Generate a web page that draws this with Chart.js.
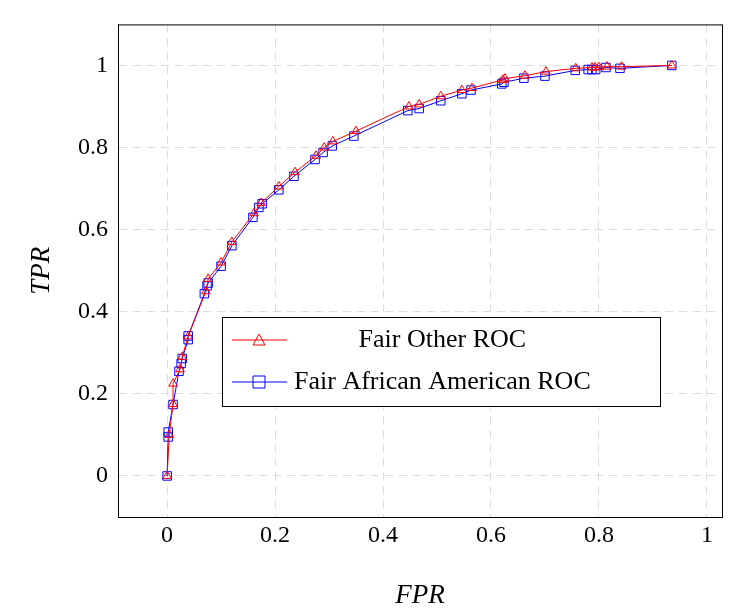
<!DOCTYPE html>
<html>
<head>
<meta charset="utf-8">
<script src="https://cdn.jsdelivr.net/npm/chart.js@4"></script>
<style>
body{margin:0;background:#fff}
#wrap{width:744px;height:616px}
</style>
</head>
<body>
<div id="wrap"><canvas id="roc"></canvas></div>
<script>
// Fair Other ROC
var otherFpr = [0,0.004,0.011,0.011,0.024,0.028,0.039,0.072,0.076,0.1,0.12,0.161,0.174,0.207,0.237,0.276,0.291,0.307,0.35,0.448,0.467,0.507,0.546,0.565,0.622,0.626,0.663,0.702,0.757,0.787,0.793,0.8,0.815,0.842,0.935];
var otherTpr = [0,0.1,0.175,0.225,0.26,0.29,0.34,0.45,0.48,0.52,0.57,0.64,0.665,0.705,0.74,0.78,0.8,0.815,0.84,0.9,0.905,0.925,0.94,0.945,0.965,0.968,0.975,0.985,0.993,0.995,0.995,0.996,0.997,0.997,1.0];
// Fair African American ROC
var aaFpr = [0,0.002,0.002,0.011,0.022,0.026,0.028,0.039,0.039,0.069,0.074,0.076,0.1,0.12,0.159,0.17,0.176,0.207,0.235,0.274,0.289,0.306,0.346,0.446,0.467,0.507,0.546,0.563,0.62,0.624,0.661,0.7,0.756,0.78,0.787,0.794,0.813,0.839,0.935];
var aaTpr = [0,0.095,0.107,0.174,0.255,0.274,0.286,0.332,0.341,0.444,0.463,0.47,0.511,0.561,0.63,0.654,0.663,0.697,0.73,0.771,0.788,0.804,0.828,0.89,0.895,0.914,0.931,0.94,0.955,0.959,0.969,0.974,0.988,0.99,0.99,0.99,0.995,0.993,1.0];
var xTicks = [0,0.2,0.4,0.6,0.8,1];
var yTicks = [0,0.2,0.4,0.6,0.8,1];

function pts(xs, ys){ return xs.map(function(x,i){ return {x:x, y:ys[i]}; }); }

var serif = '"Liberation Serif", "DejaVu Serif", serif';

// legend drawn inside the plot, like the pgfplots one
var boxLegend = {
  id: 'boxLegend',
  afterDraw: function(chart){
    var c = chart.ctx;
    var x0 = 222, y0 = 317, w = 438, h = 89;
    c.save();
    c.fillStyle = '#fff';
    c.fillRect(x0, y0, w, h);
    c.strokeStyle = '#000';
    c.lineWidth = 1;
    c.strokeRect(x0+0.5, y0+0.5, w, h);
    c.font = '26px ' + serif;
    var widest = 0;
    chart.data.datasets.forEach(function(ds){ widest = Math.max(widest, c.measureText(ds.label).width); });
    chart.data.datasets.forEach(function(ds, i){
      var cy = y0 + 23 + i*42;
      c.strokeStyle = ds.borderColor;
      c.lineWidth = 1;
      c.beginPath(); c.moveTo(x0+10, cy); c.lineTo(x0+65, cy); c.stroke();
      var mx = x0+37;
      c.beginPath();
      if (ds.pointStyle === 'triangle') {
        c.moveTo(mx, cy-6); c.lineTo(mx+6, cy+5); c.lineTo(mx-6, cy+5); c.closePath();
      } else {
        c.rect(mx-6, cy-6, 12, 12);
      }
      c.stroke();
      c.fillStyle = '#000';
      c.textAlign = 'center';
      c.textBaseline = 'middle';
      c.fillText(ds.label, x0 + 72 + widest/2, cy);
    });
    c.restore();
  }
};

new Chart(document.getElementById('roc'), {
  type: 'scatter',
  data: {
    datasets: [{
      label: 'Fair Other ROC',
      data: pts(otherFpr, otherTpr),
      showLine: true,
      borderColor: '#ff0000',
      backgroundColor: 'rgba(0,0,0,0)',
      borderWidth: 1,
      pointStyle: 'triangle',
      pointRadius: 5,
      pointBorderWidth: 1
    },{
      label: 'Fair African American ROC',
      data: pts(aaFpr, aaTpr),
      showLine: true,
      borderColor: '#0000ff',
      backgroundColor: 'rgba(0,0,0,0)',
      borderWidth: 1,
      pointStyle: 'rect',
      pointRadius: 6,
      pointBorderWidth: 1
    }]
  },
  options: {
    responsive: true,
    maintainAspectRatio: false,
    animation: false,
    layout: { padding: { left: 22, right: 22, top: 4, bottom: 0 } },
    plugins: { legend: { display: false }, tooltip: { enabled: false } },
    scales: {
      x: {
        type: 'linear', min: -0.091, max: 1.028,
        afterBuildTicks: function(s){ s.ticks = xTicks.map(function(v){ return {value:v}; }); },
        afterFit: function(s){ s.height = 99; },
        ticks: { color: '#000', font: { family: serif, size: 24 }, padding: 4,
                 callback: function(v){ return String(v); } },
        grid: { color: '#dcdcdc', tickLength: 0, drawTicks: false },
        border: { display: true, color: '#000', dash: [8, 6] },
        title: { display: true, text: 'FPR', color: '#000', font: { family: serif, size: 27, style: 'italic' }, padding: { top: 0 } }
      },
      y: {
        type: 'linear', min: -0.1, max: 1.1,
        afterBuildTicks: function(s){ s.ticks = yTicks.map(function(v){ return {value:v}; }); },
        afterFit: function(s){ s.width = 96; },
        ticks: { color: '#000', font: { family: serif, size: 24 }, padding: 10,
                 callback: function(v){ return String(v); } },
        grid: { color: '#dcdcdc', drawTicks: false },
        border: { display: true, color: '#000', dash: [8, 6] },
        title: { display: true, text: 'TPR', color: '#000', font: { family: serif, size: 27, style: 'italic' }, padding: { bottom: 0 } }
      }
    }
  },
  plugins: [boxLegend, {
    id: 'frame',
    afterDraw: function(chart){
      var a = chart.chartArea, c = chart.ctx;
      c.save(); c.strokeStyle = '#000'; c.lineWidth = 1;
      c.strokeRect(a.left+0.5, a.top+0.5, a.right-a.left, a.bottom-a.top);
      c.restore();
    }
  }]
});
</script>
</body>
</html>
